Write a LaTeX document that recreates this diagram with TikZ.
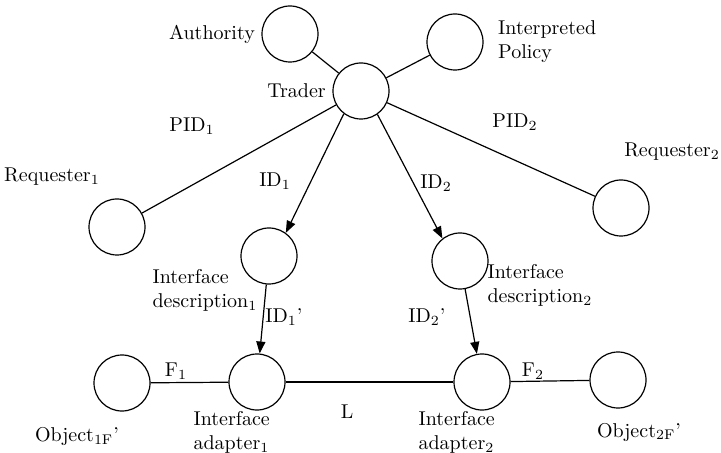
\documentclass[tikz,border=0pt]{standalone}
\usetikzlibrary{arrows.meta,positioning}

\begin{document}
\begin{tikzpicture}[x=0.5pt, y=-0.5pt, >={Triangle[length=6pt,width=4.5pt]}, line width=0.6pt,
    unit/.style={draw,circle,minimum size=28pt,inner sep=0pt},
    every node/.style={inner sep=3pt}]
  \useasboundingbox (0,0) rectangle (721,453);
  % circles
  \node[unit] (auth) at (290,34) {};
  \node[unit] (pol) at (455,42) {};
  \node[unit] (trader) at (361,91) {};
  \node[unit] (req1) at (117,227) {};
  \node[unit] (req2) at (621,208) {};
  \node[unit] (desc1) at (269,256) {};
  \node[unit] (desc2) at (460,261) {};
  \node[unit] (obj1) at (122,383) {};
  \node[unit] (adap1) at (257,382) {};
  \node[unit] (adap2) at (482,382) {};
  \node[unit] (obj2) at (618,380) {};
  % names
  \node[left=0pt of auth] (authlbl) {Authority};
  \node[right=4pt of pol,align=left] (pollbl) {Interpreted\\Policy};
  \node[left=0pt of trader] (traderlbl) {Trader};
  \node (req1lbl) at (52,177) {Requester$_1$};
  \node (req2lbl) at (672,152) {Requester$_2$};
  \node[anchor=west,align=left] (desc1lbl) at (146,290) {Interface\\description$_1$};
  \node[anchor=west,align=left] (desc2lbl) at (481,285) {Interface\\description$_2$};
  \node[anchor=west,align=left] (adap1lbl) at (187,432) {Interface\\adapter$_1$};
  \node[anchor=west,align=left] (adap2lbl) at (412,432) {Interface\\adapter$_2$};
  \node (obj1lbl) at (77,436) {Object$_{\mathrm{1F}}$'};
  \node (obj2lbl) at (639,432) {Object$_{\mathrm{2F}}$'};
  % links
  \draw (auth) -- (trader);
  \draw (pol) -- (trader);
  \draw (trader) -- (req1);
  \draw (trader) -- (req2);
  \draw[->] (trader.233) -- (desc1.54);
  \draw[->] (trader.305) -- (desc2.128);
  \draw[->] (desc1) -- (adap1);
  \draw[->] (desc2) -- (adap2);
  \draw (obj1) -- (adap1);
  \draw (adap1) -- (adap2);
  \draw (adap2) -- (obj2);
  % link labels
  \node (pid1) at (192,126) {PID$_1$};
  \node (pid2) at (515,122) {PID$_2$};
  \node (id1) at (275,181) {ID$_1$};
  \node (id2) at (436,183) {ID$_2$};
  \node (id1p) at (284,317) {ID$_1$'};
  \node (id2p) at (427,317) {ID$_2$'};
  \node (f1) at (176,371) {F$_1$};
  \node (f2) at (533,371) {F$_2$};
  \node (l) at (347,412) {L};
\end{tikzpicture}
\end{document}
